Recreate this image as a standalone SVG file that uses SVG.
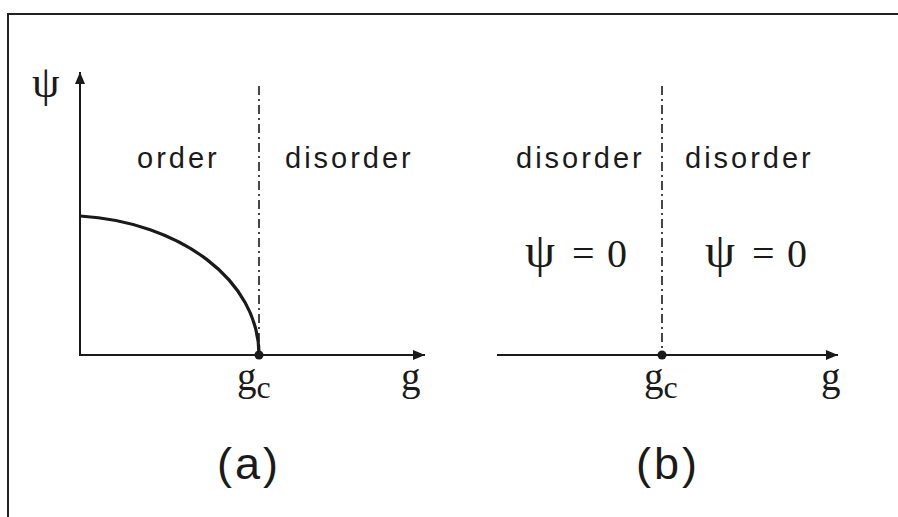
<svg xmlns="http://www.w3.org/2000/svg" width="898" height="517" viewBox="0 0 898 517">
<style>
.axis{stroke:#1a1a1a;stroke-width:2;fill:none}
.dd{stroke:#1a1a1a;stroke-width:1.6;fill:none;stroke-dasharray:9 4 2 4}
.sans{font-family:"Liberation Sans",Arial,sans-serif;font-size:29px;letter-spacing:3px;fill:#1a1a1a}
.serif{font-family:"Liberation Serif","Times New Roman",serif;fill:#1a1a1a}
.cap{font-family:"Liberation Sans",Arial,sans-serif;font-size:45px;letter-spacing:3px;fill:#1a1a1a}
</style>
<defs>
<marker id="arr" viewBox="0 0 12 10" refX="12" refY="5" markerWidth="12" markerHeight="10" markerUnits="userSpaceOnUse" orient="auto">
<path d="M0,0 L12,5 L0,10 Z" fill="#1a1a1a"/>
</marker>
</defs>
<rect width="898" height="517" fill="#fff"/>
<path d="M8,517 L8,14 L898,14" stroke="#222" stroke-width="2" fill="none"/>
<g id="connectors">
<line class="axis" x1="80" y1="356" x2="80" y2="72" marker-end="url(#arr)"/>
<line class="axis" x1="80" y1="355" x2="425" y2="355" marker-end="url(#arr)"/>
<line class="dd" x1="259" y1="86" x2="259" y2="355"/>
<path d="M80,216 C180,222 259,280 259,355" stroke="#1a1a1a" stroke-width="3.2" fill="none"/>
<line class="axis" x1="497" y1="355" x2="838" y2="355" marker-end="url(#arr)"/>
<line class="dd" x1="662" y1="86" x2="662" y2="355"/>
</g>
<g id="panel-a">
<text class="serif" x="32" y="97" font-size="44">ψ</text>
<text class="sans" x="137" y="168">order</text>
<text class="sans" x="285" y="168">disorder</text>
<circle cx="259" cy="355" r="4.5" fill="#1a1a1a"/>
<text class="serif" x="237" y="390" font-size="39">g<tspan font-size="32" dy="8">c</tspan></text>
<text class="serif" x="401" y="390" font-size="39">g</text>
<text class="cap" x="217" y="479">(a)</text>
</g>
<g id="panel-b">
<text class="sans" x="516" y="168">disorder</text>
<text class="sans" x="685" y="168">disorder</text>
<text class="serif" font-size="40" y="267"><tspan x="525" font-size="48">ψ</tspan><tspan x="572">=</tspan><tspan x="607">0</tspan></text>
<text class="serif" font-size="40" y="267"><tspan x="705" font-size="48">ψ</tspan><tspan x="752">=</tspan><tspan x="787">0</tspan></text>
<circle cx="662" cy="355" r="4.5" fill="#1a1a1a"/>
<text class="serif" x="644" y="390" font-size="39">g<tspan font-size="32" dy="8">c</tspan></text>
<text class="serif" x="821" y="390" font-size="39">g</text>
<text class="cap" x="636" y="479">(b)</text>
</g>
</svg>
